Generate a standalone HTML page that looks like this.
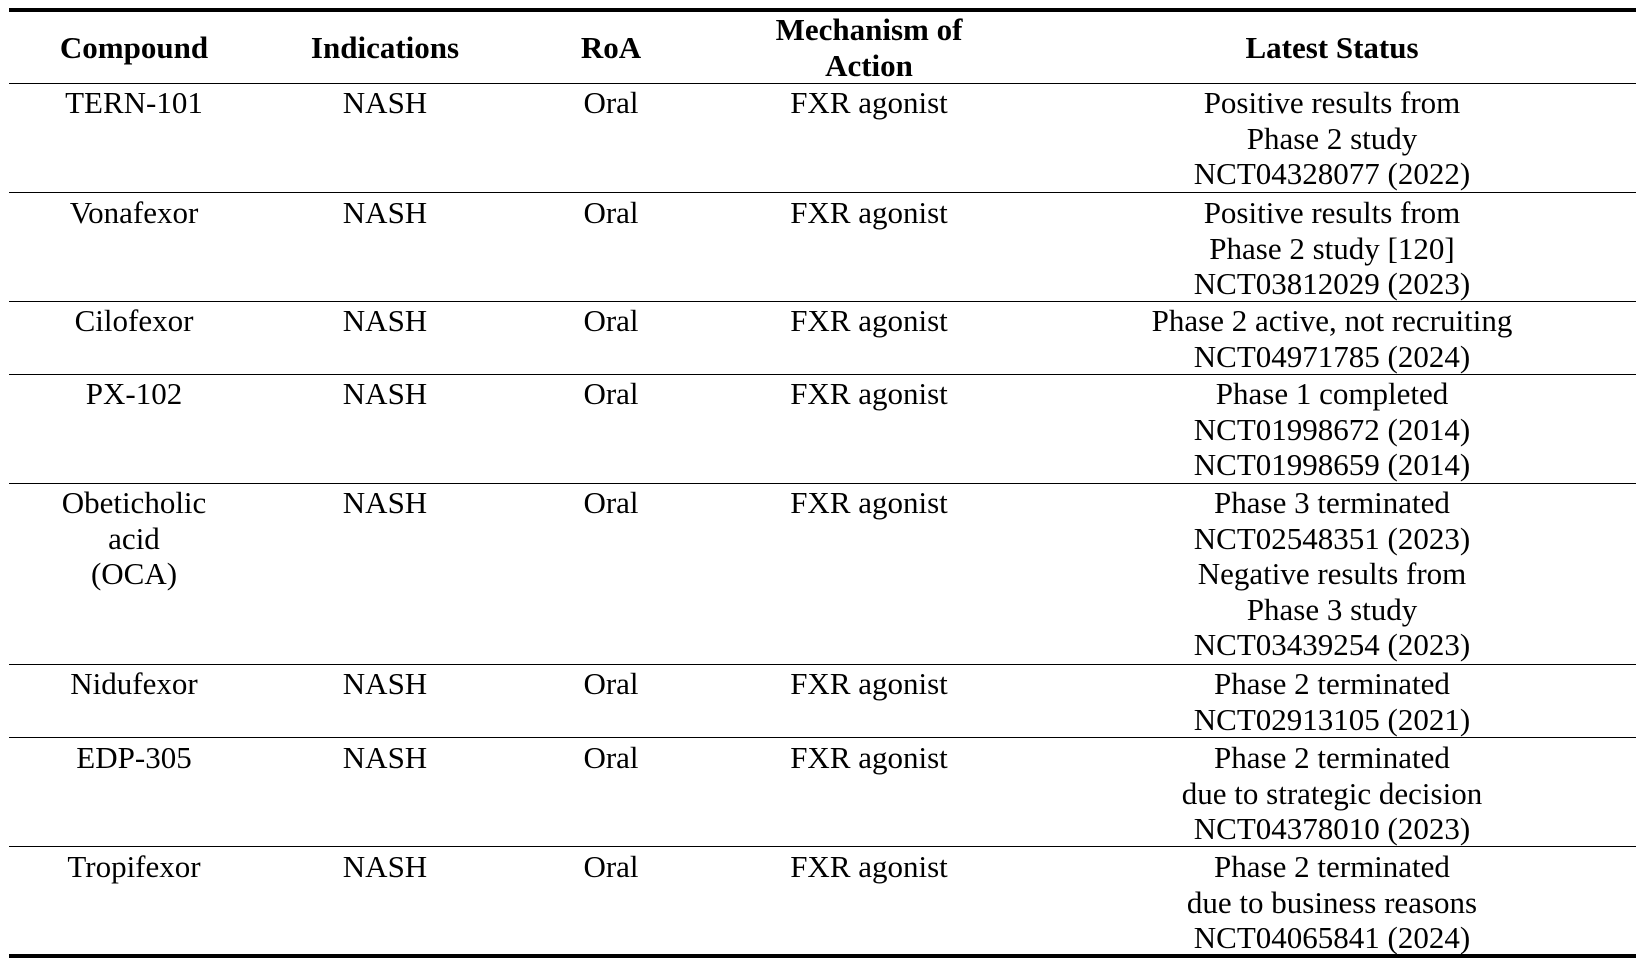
<!DOCTYPE html>
<html><head><meta charset="utf-8"><style>
html,body{margin:0;padding:0;background:#fff;}
body{width:1644px;height:967px;position:relative;overflow:hidden;font-family:"Liberation Serif",serif;color:#000;}
.c{position:absolute;text-align:center;font-size:31px;line-height:35.6px;white-space:nowrap;transform:translateX(-50%);}
.h{font-weight:bold;}
.l{position:absolute;left:9px;width:1627px;height:1px;background:#000;}
</style></head><body>
<div class="l" style="top:8px;height:4px"></div>
<div class="l" style="top:83px"></div>
<div class="l" style="top:192px"></div>
<div class="l" style="top:301px"></div>
<div class="l" style="top:374px"></div>
<div class="l" style="top:483px"></div>
<div class="l" style="top:664px"></div>
<div class="l" style="top:737px"></div>
<div class="l" style="top:846px"></div>
<div class="l" style="top:954px;height:4px"></div>

<div class="c h" style="left:134px;top:30px">Compound</div>
<div class="c h" style="left:385px;top:30px">Indications</div>
<div class="c h" style="left:611px;top:30px">RoA</div>
<div class="c h" style="left:869px;top:12px">Mechanism of<br>Action</div>
<div class="c h" style="left:1332px;top:30px">Latest Status</div>

<div class="c" style="left:134px;top:85px">TERN-101</div>
<div class="c" style="left:385px;top:85px">NASH</div>
<div class="c" style="left:611px;top:85px">Oral</div>
<div class="c" style="left:869px;top:85px">FXR agonist</div>
<div class="c" style="left:1332px;top:85px">Positive results from<br>Phase 2 study<br>NCT04328077 (2022)</div>

<div class="c" style="left:134px;top:195px">Vonafexor</div>
<div class="c" style="left:385px;top:195px">NASH</div>
<div class="c" style="left:611px;top:195px">Oral</div>
<div class="c" style="left:869px;top:195px">FXR agonist</div>
<div class="c" style="left:1332px;top:195px">Positive results from<br>Phase 2 study [120]<br>NCT03812029 (2023)</div>

<div class="c" style="left:134px;top:303px">Cilofexor</div>
<div class="c" style="left:385px;top:303px">NASH</div>
<div class="c" style="left:611px;top:303px">Oral</div>
<div class="c" style="left:869px;top:303px">FXR agonist</div>
<div class="c" style="left:1332px;top:303px">Phase 2 active, not recruiting<br>NCT04971785 (2024)</div>

<div class="c" style="left:134px;top:376px">PX-102</div>
<div class="c" style="left:385px;top:376px">NASH</div>
<div class="c" style="left:611px;top:376px">Oral</div>
<div class="c" style="left:869px;top:376px">FXR agonist</div>
<div class="c" style="left:1332px;top:376px">Phase 1 completed<br>NCT01998672 (2014)<br>NCT01998659 (2014)</div>

<div class="c" style="left:134px;top:485px">Obeticholic<br>acid<br>(OCA)</div>
<div class="c" style="left:385px;top:485px">NASH</div>
<div class="c" style="left:611px;top:485px">Oral</div>
<div class="c" style="left:869px;top:485px">FXR agonist</div>
<div class="c" style="left:1332px;top:485px">Phase 3 terminated<br>NCT02548351 (2023)<br>Negative results from<br>Phase 3 study<br>NCT03439254 (2023)</div>

<div class="c" style="left:134px;top:666px">Nidufexor</div>
<div class="c" style="left:385px;top:666px">NASH</div>
<div class="c" style="left:611px;top:666px">Oral</div>
<div class="c" style="left:869px;top:666px">FXR agonist</div>
<div class="c" style="left:1332px;top:666px">Phase 2 terminated<br>NCT02913105 (2021)</div>

<div class="c" style="left:134px;top:740px">EDP-305</div>
<div class="c" style="left:385px;top:740px">NASH</div>
<div class="c" style="left:611px;top:740px">Oral</div>
<div class="c" style="left:869px;top:740px">FXR agonist</div>
<div class="c" style="left:1332px;top:740px">Phase 2 terminated<br>due to strategic decision<br>NCT04378010 (2023)</div>

<div class="c" style="left:134px;top:849px">Tropifexor</div>
<div class="c" style="left:385px;top:849px">NASH</div>
<div class="c" style="left:611px;top:849px">Oral</div>
<div class="c" style="left:869px;top:849px">FXR agonist</div>
<div class="c" style="left:1332px;top:849px">Phase 2 terminated<br>due to business reasons<br>NCT04065841 (2024)</div>
</body></html>
